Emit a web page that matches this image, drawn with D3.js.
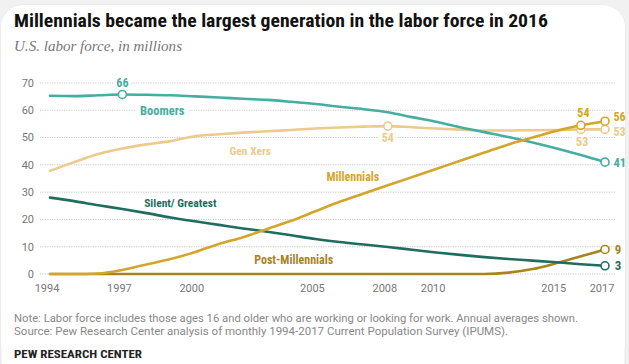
<!DOCTYPE html>
<html>
<head>
<meta charset="utf-8">
<script src="https://cdn.jsdelivr.net/npm/d3@7"></script>
<style>
  html, body { margin: 0; padding: 0; background: #f1f1f1; }
  svg { display: block; }
  .cond { font-family: "Liberation Sans Narrow", "Roboto Condensed", "Arial Narrow", Roboto, sans-serif; }
</style>
</head>
<body>
<svg id="chart" width="629" height="364"></svg>
<script>
const years = d3.range(1994, 2018);

const boomers = [65.3, 65.2, 65.5, 65.8, 65.7, 65.5, 65.1, 64.7, 64.2, 63.8, 63.1, 62.3,
                 61.3, 60.4, 59.3, 57.5, 55.8, 53.8, 52.0, 50.2, 48.2, 46.0, 43.6, 41];
const genX = [37.8, 41, 44, 46, 47.5, 48.7, 50.5, 51.2, 51.8, 52.3, 52.8, 53.3,
              53.7, 54.0, 54.2, 53.8, 53.3, 52.9, 52.6, 52.6, 52.7, 52.8, 53, 53];
const millennials = [0, 0, 0.2, 1.5, 3.5, 5.5, 8, 11, 13.5, 16.5, 19.5, 23,
                     26.5, 29.5, 32.5, 35.5, 38.5, 41.5, 44.5, 47.5, 50, 52.5, 54.5, 56];
const silent = [28, 26.7, 25.2, 23.8, 22.3, 20.7, 19.3, 18, 16.7, 15.5, 14.2, 12.8,
                11.7, 10.8, 9.9, 8.9, 7.9, 7, 6.2, 5.5, 4.9, 4.3, 3.6, 3];
const postMillennials = [0, 0, 0, 0, 0, 0, 0, 0, 0, 0, 0, 0,
                         0, 0, 0, 0, 0, 0, 0, 0.5, 1.8, 4, 6.5, 9];

const yTicks = [0, 10, 20, 30, 40, 50, 60, 70];
const xTicks = [1994, 1997, 2000, 2005, 2008, 2010, 2015, 2017];

const series = [
  { name: "Post-Millennials", values: postMillennials, color: "#a8841f", marks: [2017] },
  { name: "Silent/ Greatest", values: silent, color: "#1f6d5e", marks: [2017] },
  { name: "Gen Xers", values: genX, color: "#ebca8b", marks: [2008, 2016, 2017] },
  { name: "Boomers", values: boomers, color: "#44aea0", marks: [1997, 2017] },
  { name: "Millennials", values: millennials, color: "#d3a52a", marks: [2016, 2017] }
];

const svg = d3.select("#chart");

// card
svg.append("rect")
  .attr("x", 1).attr("y", 5).attr("width", 624).attr("height", 380)
  .attr("rx", 22).attr("fill", "#fff").attr("stroke", "#e6e6e6");
svg.append("rect")
  .attr("x", 1).attr("y", 5).attr("width", 624).attr("height", 362)
  .attr("rx", 22).attr("fill", "#fff");

const x = d3.scaleLinear().domain([1994, 2017]).range([50, 605]);
const y = d3.scaleLinear().domain([0, 70]).range([274, 83]);

// title block
svg.append("text")
  .attr("class", "cond")
  .attr("x", 14).attr("y", 27)
  .attr("font-size", 18).attr("font-weight", "bold").attr("fill", "#111")
  .attr("textLength", 534).attr("lengthAdjust", "spacingAndGlyphs")
  .text("Millennials became the largest generation in the labor force in 2016");

svg.append("text")
  .attr("x", 14).attr("y", 51)
  .attr("font-family", "'Liberation Serif', 'DejaVu Serif', serif")
  .attr("font-style", "italic").attr("font-size", 14).attr("fill", "#777")
  .attr("textLength", 168).attr("lengthAdjust", "spacingAndGlyphs")
  .text("U.S. labor force, in millions");

// grid
const gGrid = svg.append("g");
gGrid.selectAll("line")
  .data(yTicks)
  .join("line")
  .attr("x1", 40).attr("x2", 615)
  .attr("y1", d => y(d)).attr("y2", d => y(d))
  .attr("stroke", "#c8c8c8")
  .attr("stroke-width", 1)
  .attr("stroke-dasharray", "1.2,1.2");

gGrid.selectAll("text")
  .data(yTicks)
  .join("text")
  .attr("x", 34).attr("y", d => y(d))
  .attr("dy", "0.35em")
  .attr("text-anchor", "end")
  .attr("font-family", "Roboto, sans-serif")
  .attr("font-size", 11).attr("fill", "#777")
  .text(d => d);

// x axis labels
svg.append("g").selectAll("text")
  .data(xTicks)
  .join("text")
  .attr("x", d => x(d) - 3).attr("y", 292)
  .attr("text-anchor", "middle")
  .attr("font-family", "Roboto, sans-serif")
  .attr("font-size", 11).attr("fill", "#777")
  .text(d => d);

// label backgrounds that break the gridlines
const bgLabels = [
  { year: 1997, value: 70, w: 18 },
  { year: 1998.65, value: 60, w: 54 },
  { year: 2008, value: 50, w: 18 },
  { year: 2016, value: 50, w: 18 }
];
svg.append("g").selectAll("rect")
  .data(bgLabels)
  .join("rect")
  .attr("x", d => x(d.year) - d.w / 2).attr("y", d => y(d.value) - 3)
  .attr("width", d => d.w).attr("height", 6)
  .attr("fill", "#fff");

// lines
const line = d3.line()
  .x((d, i) => x(years[i]))
  .y(d => y(d))
  .curve(d3.curveMonotoneX);

const gLines = svg.append("g");
gLines.selectAll("path")
  .data(series)
  .join("path")
  .attr("d", d => line(d.values))
  .attr("fill", "none")
  .attr("stroke", d => d.color)
  .attr("stroke-width", 2.6)
  .attr("stroke-linecap", "round");

// markers
const markers = series.flatMap(s => s.marks.map(yr => ({
  year: yr, value: s.values[years.indexOf(yr)], color: s.color
})));
svg.append("g").selectAll("circle")
  .data(markers)
  .join("circle")
  .attr("cx", d => x(d.year)).attr("cy", d => y(d.value))
  .attr("r", 4)
  .attr("fill", "#fff")
  .attr("stroke", d => d.color)
  .attr("stroke-width", 1.6);

// annotations
const notes = [
  { text: "66", year: 1997, value: 70.3, color: "#44aea0", size: 12, anchor: "middle" },
  { text: "Boomers", year: 1998.65, value: 60, color: "#44aea0", size: 12.5, anchor: "middle" },
  { text: "Gen Xers", year: 2002.3, value: 45, color: "#ebca8b", size: 11.5, anchor: "middle" },
  { text: "54", year: 2008, value: 49.8, color: "#ebca8b", size: 12, anchor: "middle" },
  { text: "Millennials", year: 2006.55, value: 35.5, color: "#d3a52a", size: 12, anchor: "middle" },
  { text: "Silent/ Greatest", year: 1999.4, value: 26, color: "#1f6d5e", size: 11.5, anchor: "middle" },
  { text: "Post-Millennials", year: 2004.1, value: 5.4, color: "#a8841f", size: 12, anchor: "middle" },
  { text: "54", year: 2016.1, value: 59.3, color: "#d3a52a", size: 12.5, anchor: "middle" },
  { text: "53", year: 2016.05, value: 48.6, color: "#ebca8b", size: 12.5, anchor: "middle" },
  { text: "56", year: 2017.35, value: 57.7, color: "#d3a52a", size: 12, anchor: "start" },
  { text: "53", year: 2017.35, value: 52.3, color: "#ebca8b", size: 12, anchor: "start" },
  { text: "41", year: 2017.35, value: 41, color: "#44aea0", size: 12.5, anchor: "start" },
  { text: "9", year: 2017.4, value: 9.2, color: "#a8841f", size: 13, anchor: "start" },
  { text: "3", year: 2017.4, value: 3, color: "#1f6d5e", size: 13, anchor: "start" }
];
svg.append("g").selectAll("text")
  .data(notes)
  .join("text")
  .attr("class", "cond")
  .attr("x", d => x(d.year)).attr("y", d => y(d.value))
  .attr("dy", "0.36em")
  .attr("text-anchor", d => d.anchor)
  .attr("font-size", d => d.size)
  .attr("font-weight", "bold")
  .attr("fill", d => d.color)
  .text(d => d.text);

// footer
svg.append("text")
  .attr("x", 14).attr("y", 322)
  .attr("font-family", "Roboto, sans-serif")
  .attr("font-size", 10).attr("fill", "#888")
  .attr("textLength", 564).attr("lengthAdjust", "spacingAndGlyphs")
  .text("Note: Labor force includes those ages 16 and older who are working or looking for work. Annual averages shown.");
svg.append("text")
  .attr("x", 14).attr("y", 335)
  .attr("font-family", "Roboto, sans-serif")
  .attr("font-size", 10).attr("fill", "#888")
  .attr("textLength", 494).attr("lengthAdjust", "spacingAndGlyphs")
  .text("Source: Pew Research Center analysis of monthly 1994-2017 Current Population Survey (IPUMS).");
svg.append("text")
  .attr("class", "cond")
  .attr("x", 14).attr("y", 358)
  .attr("font-size", 11.5).attr("font-weight", "bold").attr("fill", "#222")
  .attr("textLength", 128).attr("lengthAdjust", "spacingAndGlyphs")
  .text("PEW RESEARCH CENTER");
</script>
</body>
</html>
